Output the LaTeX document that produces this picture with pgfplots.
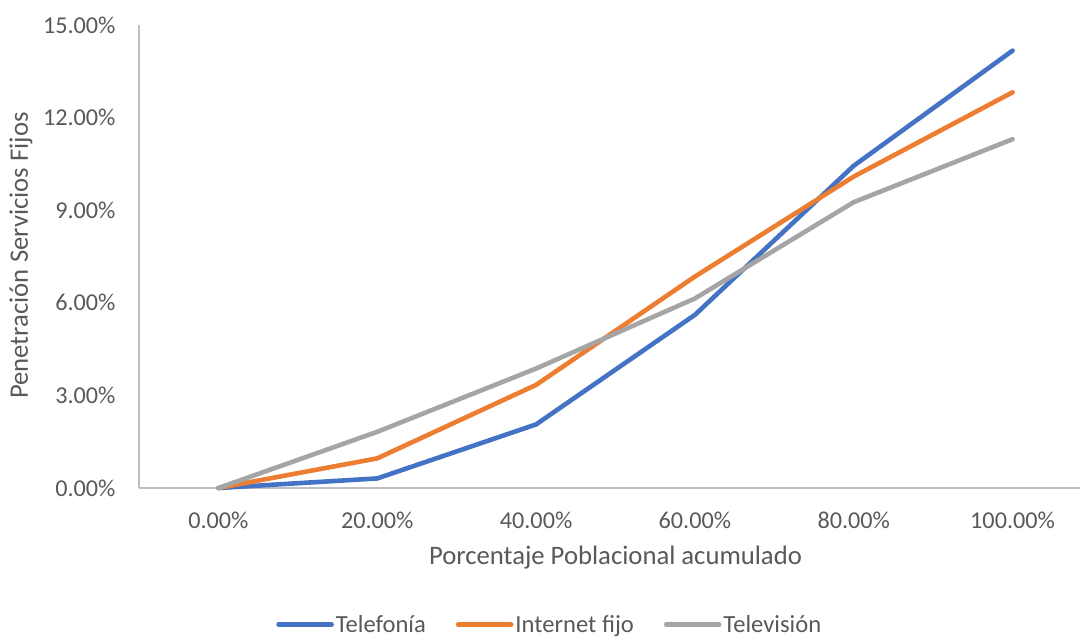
\documentclass[border=0pt]{standalone}
\usepackage{fontspec}
\setmainfont{Carlito}
\usepackage{pgfplots}
\pgfplotsset{compat=1.18}
\definecolor{cTel}{HTML}{4472C4}
\definecolor{cInt}{HTML}{ED7D31}
\definecolor{cTv}{HTML}{A5A5A5}
\definecolor{axgray}{HTML}{BFBFBF}
\definecolor{txgray}{HTML}{595959}
\newcommand{\tickfont}{\fontsize{24.2bp}{28bp}\selectfont}
\newcommand{\labfont}{\fontsize{26.7bp}{31bp}\selectfont}
\newcommand{\legfont}{\fontsize{24.6bp}{29bp}\selectfont}

\begin{document}
\begin{tikzpicture}
\begin{axis}[
	scale only axis,
	width=953bp, height=463bp,
	xmin=-0.5, xmax=5.5,
	ymin=0, ymax=15,
	axis x line*=bottom, axis y line*=left,
	axis line style={draw=axgray, line width=1.2bp},
	major tick length=0pt,
	xtick={0,1,2,3,4,5},
	xticklabels={0.00\%,20.00\%,40.00\%,60.00\%,80.00\%,100.00\%},
	ytick={0,3,6,9,12,15},
	yticklabels={0.00\%,3.00\%,6.00\%,9.00\%,12.00\%,15.00\%},
	tick label style={font=\tickfont, text=txgray},
	xticklabel style={yshift=-20bp},
	yticklabel style={xshift=-20bp},
	xlabel={Porcentaje Poblacional acumulado},
	ylabel={Penetración Servicios Fijos},
	label style={font=\labfont, text=txgray},
	xlabel style={at={(axis description cs:0.5,-0.151)}, anchor=center},
	ylabel style={at={(axis description cs:-0.1238,0.502)}, anchor=center},
	legend style={at={(0.431,-0.295)}, anchor=center, draw=none, fill=none,
		font=\legfont, text=txgray, inner sep=0pt,
		/tikz/every even column/.append style={column sep=28bp}},
	legend columns=3,
	legend cell align=left,
	legend image code/.code={\draw[#1] (0bp,0bp) -- (53bp,0bp);},
	every axis plot/.append style={line width=4.6bp, line cap=round, line join=round},
	clip=false,
]
\coordinate (o) at (rel axis cs:0,0);
\addplot[cTel] coordinates {(0,0) (1,0.31) (2,2.06) (3,5.61) (4,10.44) (5,14.17)};
\addlegendentry{Telefonía}
\addplot[cInt] coordinates {(0,0) (1,0.96) (2,3.34) (3,6.85) (4,10.09) (5,12.82)};
\addlegendentry{Internet fijo}
\addplot[cTv] coordinates {(0,0) (1,1.82) (2,3.87) (3,6.14) (4,9.26) (5,11.30)};
\addlegendentry{Televisión}
\end{axis}
\pgfresetboundingbox
\path[use as bounding box] ([shift={(-139bp,-151bp)}]o) rectangle ++(1080bp,639bp);
\end{tikzpicture}
\end{document}
